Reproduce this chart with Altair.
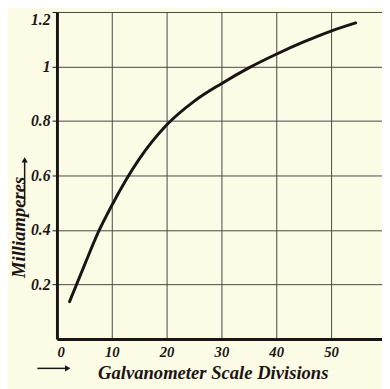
import altair as alt
import pandas as pd

divisions = [2.3, 5.0, 7.5, 10.0, 15.0, 20.0, 25.0, 30.0, 35.0, 40.0, 45.0, 50.0, 54.5]
milliamperes = [0.137, 0.27, 0.39, 0.49, 0.66, 0.785, 0.872, 0.937, 0.995, 1.045, 1.09, 1.13, 1.16]
x_ticks = [0, 10, 20, 30, 40, 50]
y_ticks = [0.2, 0.4, 0.6, 0.8, 1.0, 1.2]
x_title = "Galvanometer Scale Divisions"
y_title = "Milliamperes"

df = pd.DataFrame({"d": divisions, "ma": milliamperes})

FONT = "Liberation Serif"
INK = "#1c1414"
W, H = 332, 334

xs = alt.Scale(domain=[0, 59.3], nice=False, zero=True)
ys = alt.Scale(domain=[0, 1.2], nice=False)

line = alt.Chart(df).mark_line(
    color=INK, strokeWidth=3, interpolate="monotone", strokeCap="round"
).encode(
    x=alt.X("d:Q", scale=xs, axis=alt.Axis(
        values=x_ticks, title=None, grid=True, gridColor="#4a4444", gridWidth=1,
        gridOpacity=1, domainColor=INK, domainWidth=3, ticks=False,
        labelFont=FONT, labelFontStyle="italic", labelFontWeight="bold",
        labelFontSize=15, labelColor=INK, labelPadding=6,
        labelExpr="datum.value")),
    y=alt.Y("ma:Q", scale=ys, axis=alt.Axis(
        values=y_ticks, title=None, grid=True, gridColor="#4a4444", gridWidth=1,
        gridOpacity=1, domainColor=INK, domainWidth=3, ticks=True, tickSize=5,
        tickColor=INK, tickWidth=1, labelFlush=True,
        labelFont=FONT, labelFontStyle="italic", labelFontWeight="bold",
        labelFontSize=16, labelColor=INK, labelPadding=2,
        labelExpr="datum.value")),
)

anno = pd.DataFrame({"k": [0]})
base = alt.Chart(anno)

xt = base.mark_text(font=FONT, fontStyle="italic", fontWeight="bold", fontSize=19,
                    color=INK, align="left", baseline="alphabetic").encode(
    x=alt.value(42), y=alt.value(375), text=alt.value(x_title))
yt = base.mark_text(font=FONT, fontStyle="italic", fontWeight="bold", fontSize=19,
                    color=INK, align="center", baseline="middle", angle=270).encode(
    x=alt.value(-39), y=alt.value(220), text=alt.value(y_title))

xar = base.mark_rule(color=INK, strokeWidth=1.5).encode(
    x=alt.value(-20), x2=alt.value(10), y=alt.value(364))
xah = base.mark_point(shape="triangle-right", filled=True, color=INK, size=40, opacity=1).encode(
    x=alt.value(11), y=alt.value(364))
yar = base.mark_rule(color=INK, strokeWidth=1.5).encode(
    x=alt.value(-33), y=alt.value(197), y2=alt.value(153))
yah = base.mark_point(shape="triangle-up", filled=True, color=INK, size=40, opacity=1).encode(
    x=alt.value(-33), y=alt.value(151))

chart = alt.layer(line, xt, yt, xar, xah, yar, yah).properties(
    width=W, height=H,
    autosize=alt.AutoSizeParams(type="none"),
    padding={"left": 50, "top": 0, "right": 0, "bottom": 47},
    background="#fbfbe6",
).configure_view(stroke=None)

chart.save("out.html", embed_options={"renderer": "svg", "actions": False})
